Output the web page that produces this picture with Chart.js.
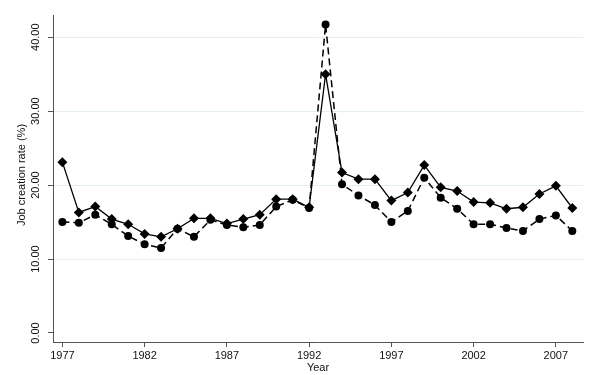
<!DOCTYPE html>
<html>
<head>
<meta charset="utf-8">
<script src="https://cdn.jsdelivr.net/npm/chart.js@4/dist/chart.umd.min.js"></script>
<style>
    html, body { margin: 0; padding: 0; background: #fff; }
    #wrap { width: 598px; height: 375px; position: relative; }
</style>
</head>
<body>
<div id="wrap"><canvas id="jobChart"></canvas></div>
<script>
// Years on the x axis
const years = [1977, 1978, 1979, 1980, 1981, 1982, 1983, 1984, 1985, 1986, 1987,
    1988, 1989, 1990, 1991, 1992, 1993, 1994, 1995, 1996, 1997, 1998,
    1999, 2000, 2001, 2002, 2003, 2004, 2005, 2006, 2007, 2008];

// Solid line with diamonds
const diamondSeries = [23.1, 16.3, 17.1, 15.4, 14.7, 13.4, 13.0, 14.1, 15.5, 15.5, 14.8,
    15.4, 16.0, 18.1, 18.1, 17.0, 35.0, 21.7, 20.8, 20.8, 17.9, 19.0,
    22.7, 19.7, 19.2, 17.7, 17.6, 16.8, 17.0, 18.8, 19.9, 16.9];

// Dashed line with circles
const circleSeries = [15.0, 14.9, 16.0, 14.7, 13.1, 12.0, 11.5, 14.1, 13.0, 15.3, 14.6,
    14.3, 14.6, 17.1, 18.0, 16.9, 41.7, 20.1, 18.6, 17.3, 15.0, 16.5,
    21.0, 18.3, 16.8, 14.7, 14.7, 14.2, 13.8, 15.4, 15.9, 13.8];

// Tick labels
const xTicks = [1977, 1982, 1987, 1992, 1997, 2002, 2007];
const yTicks = [0, 10, 20, 30, 40];
const yTitle = 'Job creation rate (%)';

const fontFamily = '"Liberation Sans", Arial, sans-serif';

function toPoints(vals) {
    return years.map((yr, i) => ({ x: yr, y: vals[i] }));
}

// Stata style: y labels and title turned upright, centred on their tick
const rotatedYLabels = {
    id: 'rotatedYLabels',
    afterDraw: function(chart) {
        const c = chart.ctx;
        const yScale = chart.scales.y;
        c.save();
        c.fillStyle = '#111';
        c.font = '11px ' + fontFamily;
        c.textAlign = 'center';
        c.textBaseline = 'middle';
        yTicks.forEach(function(v) {
            const py = yScale.getPixelForValue(v);
            c.save();
            c.translate(36, py);
            c.rotate(-Math.PI / 2);
            c.fillText(v.toFixed(2), 0, 0);
            c.restore();
        });
        c.translate(22, 175);
        c.rotate(-Math.PI / 2);
        c.fillText(yTitle, 0, 0);
        c.restore();
    }
};

const ctx = document.getElementById('jobChart').getContext('2d');

const jobChart = new Chart(ctx, {
    type: 'line',
    data: {
        datasets: [
            {
                label: 'Diamonds',
                data: toPoints(diamondSeries),
                borderColor: '#000',
                backgroundColor: '#000',
                borderWidth: 1.3,
                pointStyle: 'rectRot',
                pointRadius: 5,
                pointBorderWidth: 0,
                tension: 0
            },
            {
                label: 'Circles',
                data: toPoints(circleSeries),
                borderColor: '#000',
                backgroundColor: '#000',
                borderWidth: 1.5,
                borderDash: [7, 4],
                pointStyle: 'circle',
                pointRadius: 4,
                pointBorderWidth: 0,
                tension: 0
            }
        ]
    },
    options: {
        responsive: true,
        maintainAspectRatio: false,
        animation: false,
        layout: {
            padding: { top: 15, right: 15, left: 0, bottom: 0 }
        },
        plugins: {
            legend: { display: false },
            tooltip: { enabled: false }
        },
        scales: {
            x: {
                type: 'linear',
                min: 1976.43,
                max: 2008.65,
                afterBuildTicks: function(scale) {
                    scale.ticks = xTicks.map(v => ({ value: v }));
                },
                afterFit: function(scale) {
                    scale.height = 33;
                },
                grid: {
                    drawOnChartArea: false,
                    tickLength: 5,
                    tickColor: '#555'
                },
                border: { color: '#555', width: 1 },
                ticks: {
                    color: '#111',
                    padding: 2,
                    maxRotation: 0,
                    font: { family: fontFamily, size: 11 },
                    callback: function(value) { return String(value); }
                },
                title: {
                    display: true,
                    text: 'Year',
                    color: '#111',
                    padding: { top: 0, bottom: 0 },
                    font: { family: fontFamily, size: 11 }
                }
            },
            y: {
                type: 'linear',
                min: -1.22,
                max: 43,
                afterBuildTicks: function(scale) {
                    scale.ticks = yTicks.map(v => ({ value: v }));
                },
                afterFit: function(scale) {
                    scale.width = 53;
                },
                grid: {
                    color: function(c) {
                        return c.tick && c.tick.value === 0 ? 'rgba(0,0,0,0)' : '#e3eef0';
                    },
                    tickLength: 5,
                    tickColor: '#555'
                },
                border: { color: '#555', width: 1 },
                ticks: { display: false }
            }
        }
    },
    plugins: [rotatedYLabels]
});
</script>
</body>
</html>
